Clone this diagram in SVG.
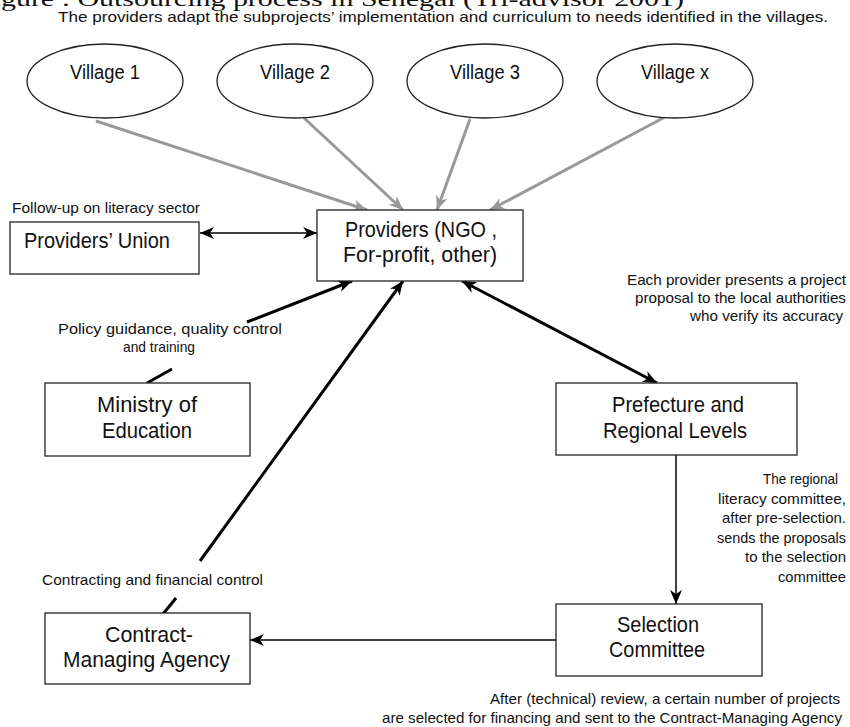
<svg xmlns="http://www.w3.org/2000/svg" width="850" height="727" viewBox="0 0 850 727">
<style>
text{font-family:"Liberation Sans Narrow","Liberation Sans",Arial,sans-serif;fill:#111}
.lbl{font-size:22px}
.vil{font-size:20px}
.note{font-size:15px}
.title{font-family:"Liberation Serif","Times New Roman",serif;font-size:22px}
.box{fill:#fff;stroke:#222;stroke-width:1.3}
.ell{fill:#fff;stroke:#222;stroke-width:1.3}
.g{stroke:#999;stroke-width:3;fill:none}
.k{stroke:#000;stroke-width:3;fill:none}
.t{stroke:#000;stroke-width:1.5;fill:none}
</style>
<defs>
<marker id="ah" markerUnits="userSpaceOnUse" markerWidth="16" markerHeight="14" refX="14" refY="6" orient="auto-start-reverse" viewBox="0 0 16 14">
<path d="M0,0 L14,6 L0,12 L4,6 z" fill="#000"/>
</marker>
<marker id="ag" markerUnits="userSpaceOnUse" markerWidth="16" markerHeight="14" refX="14" refY="6" orient="auto" viewBox="0 0 16 14">
<path d="M0,0 L14,6 L0,12 L4,6 z" fill="#999"/>
</marker>
</defs>
<rect width="850" height="727" fill="#fff"/>
<g id="title">
<text class="title" x="-24" y="6" textLength="708" lengthAdjust="spacingAndGlyphs">Figure : Outsourcing process in Senegal (Tri-advisor 2001)</text>
<text class="note" x="58" y="22" textLength="770" lengthAdjust="spacingAndGlyphs">The providers adapt the subprojects’ implementation and curriculum to needs identified in the villages.</text>
</g>
<g id="connectors">
<line class="g" x1="96" y1="121" x2="367" y2="210" marker-end="url(#ag)"/>
<line class="g" x1="304" y1="118" x2="403" y2="210" marker-end="url(#ag)"/>
<line class="g" x1="470" y1="119" x2="437" y2="210" marker-end="url(#ag)"/>
<line class="g" x1="665" y1="117" x2="490" y2="210" marker-end="url(#ag)"/>
<line class="t" x1="200" y1="233" x2="317" y2="233" marker-start="url(#ah)" marker-end="url(#ah)"/>
<line class="k" x1="247" y1="322" x2="352" y2="281" marker-end="url(#ah)"/>
<line class="k" x1="147" y1="383" x2="172" y2="369"/>
<line class="k" x1="200" y1="561" x2="403" y2="281" marker-end="url(#ah)"/>
<line class="k" x1="163" y1="614" x2="176" y2="598"/>
<line class="k" x1="462" y1="281" x2="657" y2="383" marker-start="url(#ah)" marker-end="url(#ah)"/>
<line class="t" x1="676" y1="455" x2="676" y2="604" marker-end="url(#ah)"/>
<line class="t" x1="556" y1="640" x2="250" y2="640" marker-end="url(#ah)"/>
</g>
<g id="village1"><ellipse class="ell" cx="105" cy="81" rx="78" ry="37"/><text class="vil" x="70" y="79" textLength="70" lengthAdjust="spacingAndGlyphs">Village 1</text></g>
<g id="village2"><ellipse class="ell" cx="295" cy="81" rx="78" ry="37"/><text class="vil" x="260" y="79" textLength="70" lengthAdjust="spacingAndGlyphs">Village 2</text></g>
<g id="village3"><ellipse class="ell" cx="485" cy="81" rx="78" ry="37"/><text class="vil" x="450" y="79" textLength="70" lengthAdjust="spacingAndGlyphs">Village 3</text></g>
<g id="villagex"><ellipse class="ell" cx="675" cy="81" rx="78" ry="37"/><text class="vil" x="641" y="79" textLength="68" lengthAdjust="spacingAndGlyphs">Village x</text></g>
<g id="providers-union">
<rect class="box" x="10" y="222" width="189" height="52"/>
<text class="lbl" x="24" y="248" textLength="146" lengthAdjust="spacingAndGlyphs">Providers’ Union</text>
</g>
<g id="providers">
<rect class="box" x="317" y="210" width="206" height="71"/>
<text class="lbl" x="345" y="237" textLength="152" lengthAdjust="spacingAndGlyphs">Providers (NGO ,</text>
<text class="lbl" x="343" y="262" textLength="154" lengthAdjust="spacingAndGlyphs">For-profit, other)</text>
</g>
<g id="ministry">
<rect class="box" x="45" y="383" width="205" height="73"/>
<text class="lbl" x="97" y="412" textLength="100" lengthAdjust="spacingAndGlyphs">Ministry of</text>
<text class="lbl" x="102" y="438" textLength="90" lengthAdjust="spacingAndGlyphs">Education</text>
</g>
<g id="prefecture">
<rect class="box" x="556" y="383" width="241" height="72"/>
<text class="lbl" x="612" y="412" textLength="132" lengthAdjust="spacingAndGlyphs">Prefecture and</text>
<text class="lbl" x="603" y="438" textLength="144" lengthAdjust="spacingAndGlyphs">Regional Levels</text>
</g>
<g id="selection">
<rect class="box" x="556" y="604" width="206" height="72"/>
<text class="lbl" x="617" y="632" textLength="82" lengthAdjust="spacingAndGlyphs">Selection</text>
<text class="lbl" x="609" y="657" textLength="96" lengthAdjust="spacingAndGlyphs">Committee</text>
</g>
<g id="contract">
<rect class="box" x="45" y="613" width="205" height="71"/>
<text class="lbl" x="105" y="642" textLength="88" lengthAdjust="spacingAndGlyphs">Contract-</text>
<text class="lbl" x="63" y="667" textLength="167" lengthAdjust="spacingAndGlyphs">Managing Agency</text>
</g>
<g id="notes">
<text class="note" x="12" y="213" textLength="188" lengthAdjust="spacingAndGlyphs">Follow-up on literacy sector</text>
<text class="note" x="58" y="334" textLength="224" lengthAdjust="spacingAndGlyphs">Policy guidance, quality control</text>
<text class="note" x="123" y="352" textLength="72" lengthAdjust="spacingAndGlyphs">and training</text>
<text class="note" x="42" y="585" textLength="221" lengthAdjust="spacingAndGlyphs">Contracting and financial control</text>
<text class="note" x="627" y="285" textLength="219" lengthAdjust="spacingAndGlyphs">Each provider presents a project</text>
<text class="note" x="635" y="303" textLength="211" lengthAdjust="spacingAndGlyphs">proposal to the local authorities</text>
<text class="note" x="690" y="321" textLength="153" lengthAdjust="spacingAndGlyphs">who verify its accuracy</text>
<text class="note" x="763" y="484" textLength="75" lengthAdjust="spacingAndGlyphs">The regional</text>
<text class="note" x="718" y="504" textLength="128" lengthAdjust="spacingAndGlyphs">literacy committee,</text>
<text class="note" x="722" y="523" textLength="124" lengthAdjust="spacingAndGlyphs">after pre-selection.</text>
<text class="note" x="717" y="543" textLength="129" lengthAdjust="spacingAndGlyphs">sends the proposals</text>
<text class="note" x="745" y="562" textLength="101" lengthAdjust="spacingAndGlyphs">to the selection</text>
<text class="note" x="778" y="582" textLength="68" lengthAdjust="spacingAndGlyphs">committee</text>
<text class="note" x="490" y="704" textLength="350" lengthAdjust="spacingAndGlyphs">After (technical) review, a certain number of projects</text>
<text class="note" x="382" y="723" textLength="460" lengthAdjust="spacingAndGlyphs">are selected for financing and sent to the Contract-Managing Agency</text>
</g>
</svg>
